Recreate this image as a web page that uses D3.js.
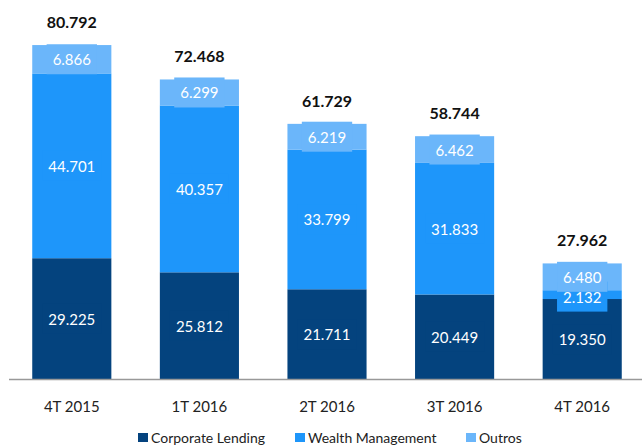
<!DOCTYPE html>
<html><head><meta charset="utf-8">
<script src="https://cdn.jsdelivr.net/npm/d3@7"></script>
<style>body{margin:0;background:#fff;}svg{display:block;font-family:Lato,"Open Sans",sans-serif;}</style>
</head><body>
<svg id="c" width="642" height="446"></svg>
<script>
const categories = ["4T 2015", "1T 2016", "2T 2016", "3T 2016", "4T 2016"];
const seriesNames = ["Corporate Lending", "Wealth Management", "Outros"];
const corporateLending = [29225, 25812, 21711, 20449, 19350];
const wealthManagement = [44701, 40357, 33799, 31833, 2132];
const outros = [6866, 6299, 6219, 6462, 6480];
const totals = [80792, 72468, 61729, 58744, 27962];
const colors = ["#04437E", "#1E96FA", "#6BB6FA"];

const loc = d3.formatLocale({decimal: ",", thousands: ".", grouping: [3], currency: ["", ""]});
const fmt = loc.format(",d");

const svg = d3.select("#c");
const x = d3.scaleBand().domain(categories).range([8, 646]).paddingInner(0.38).paddingOuter(0.19);
const y = d3.scaleLinear().domain([0, 90000]).range([379, 7]);

const rows = categories.map((c, i) => ({cat: c, "Corporate Lending": corporateLending[i], "Wealth Management": wealthManagement[i], "Outros": outros[i], total: totals[i]}));
const stacked = d3.stack().keys(seriesNames)(rows);

// bars
svg.append("g").selectAll("g").data(stacked).join("g")
  .attr("fill", (d, i) => colors[i])
  .selectAll("rect").data(d => d).join("rect")
  .attr("x", d => x(d.data.cat))
  .attr("width", x.bandwidth())
  .attr("y", d => y(d[1]))
  .attr("height", d => y(d[0]) - y(d[1]));

// axis line
const xAxis = d3.axisBottom(x).tickSize(0).tickPadding(22);
const ax = svg.append("g").attr("transform", "translate(0,379)").call(xAxis);
ax.select(".domain").attr("d", "M9,0.5H642").attr("stroke", "#999").attr("stroke-width", 1.5);
ax.selectAll("text").attr("font-size", 15).attr("fill", "#222").attr("font-family", "Lato,sans-serif");

// segment labels with filled boxes
const labelG = svg.append("g");
stacked.forEach((layer, li) => {
  layer.forEach(d => {
    const cx = x(d.data.cat) + x.bandwidth() / 2;
    const cy = (y(d[0]) + y(d[1])) / 2 + (li === 1 && d[1] - d[0] < 4000 ? 2 : 0);
    const g = labelG.append("g");
    const t = g.append("text").attr("x", cx).attr("y", cy)
      .attr("text-anchor", "middle").attr("dominant-baseline", "central")
      .attr("font-size", 15).attr("fill", "#fff")
      .text(fmt(d[1] - d[0]));
    const w = t.node().getComputedTextLength();
    g.insert("rect", "text").attr("x", cx - w / 2 - 6).attr("width", w + 12)
      .attr("y", cy - 15).attr("height", 30).attr("fill", colors[li]);
  });
});

// totals
svg.append("g").selectAll("text").data(rows).join("text")
  .attr("x", d => x(d.cat) + x.bandwidth() / 2)
  .attr("y", d => y(d.total) - 17)
  .attr("text-anchor", "middle").attr("font-size", 16).attr("font-weight", "bold").attr("fill", "#111")
  .text(d => fmt(d.total));

// legend
const legendX = [138, 295, 466];
const lg = svg.append("g").selectAll("g").data(seriesNames).join("g")
  .attr("transform", (d, i) => `translate(${legendX[i]},433)`);
lg.append("rect").attr("width", 10).attr("height", 9).attr("fill", (d, i) => colors[i]);
lg.append("text").attr("x", 13).attr("y", 9.5).attr("font-size", 14).attr("fill", "#222").text(d => d);
</script>
</body></html>
